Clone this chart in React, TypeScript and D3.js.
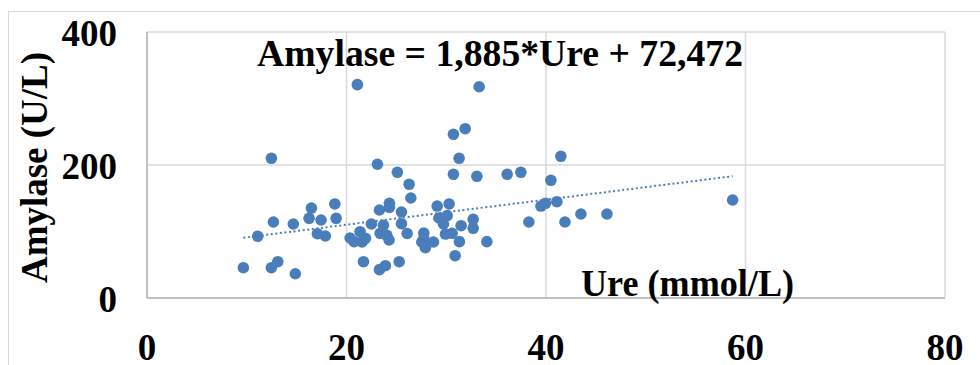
import React from "react";
import * as d3 from "d3";

// Ure (mmol/L) values
const ureValues: number[] = [
  9.66, 11.1, 12.47, 12.47, 12.67, 13.11, 14.67, 14.87, 16.25, 16.48,
  17.08, 17.45, 17.88, 18.83, 18.96, 20.36, 20.76, 21.09, 21.36, 21.56,
  21.9, 21.7, 22.5, 23.1, 23.3, 23.3, 23.37, 23.7, 23.9, 24.04,
  24.3, 24.3, 24.27, 25.1, 25.28, 25.51, 25.51, 26.08, 26.28, 26.45,
  27.55, 27.75, 27.75, 27.91, 28.72, 29.09, 29.26, 29.72, 29.92, 30.09,
  30.29, 30.59, 30.72, 30.72, 30.89, 31.29, 31.32, 31.49, 31.9, 32.7,
  32.7, 33.07, 33.3, 34.07, 36.11, 37.48, 38.28, 39.49, 39.95, 40.49,
  41.09, 41.49, 41.9, 43.5, 46.11, 58.71,
];
// Amylase (U/L) values
const amylaseValues: number[] = [
  45.6, 92.8, 210.1, 45.6, 114.3, 54.6, 111.3, 36.5, 119.8, 135.3,
  96.7, 117.3, 93.2, 141.4, 119.8, 90.2, 84.7, 320.8, 99.7, 84.2,
  89.8, 54.6, 111.3, 201.1, 132.3, 42.6, 97.3, 109.3, 48.6, 94.3,
  142.4, 136.4, 87.2, 189.0, 54.6, 129.3, 111.7, 97.0, 171.0, 150.4,
  84.2, 97.7, 89.8, 75.6, 84.2, 138.3, 120.3, 111.3, 96.2, 123.8,
  141.4, 97.3, 246.2, 186.0, 63.6, 210.1, 84.7, 108.7, 254.6, 118.3,
  104.8, 183.0, 317.7, 84.7, 186.0, 189.0, 114.3, 138.3, 142.4, 177.0,
  144.8, 213.1, 114.3, 126.3, 126.3, 147.4,
];

const xTicks: number[] = [0, 20, 40, 60, 80];
const yTicks: number[] = [0, 200, 400];
const slope = 1.885;
const intercept = 72.472;
const equationText = "Amylase = 1,885*Ure + 72,472";
const xTitle = "Ure (mmol/L)";
const yTitle = "Amylase (U/L)";

const FONT = "'Liberation Serif', 'Times New Roman', serif";
const BLUE = "#4a7ebb";

export default function App() {
  const x = d3.scaleLinear().domain([0, 80]).range([147, 945]);
  const y = d3.scaleLinear().domain([0, 400]).range([298, 32]);

  const xMin = d3.min(ureValues) as number;
  const xMax = d3.max(ureValues) as number;
  const trend = d3
    .line<number>()
    .x((d) => x(d))
    .y((d) => y(slope * d + intercept));

  const points = ureValues.map((u, i) => ({ u, a: amylaseValues[i] }));

  return (
    <svg
      width={980}
      height={365}
      style={{ position: "absolute", left: 0, top: 0, background: "#fff" }}
    >
      {/* outer chart border */}
      <rect x={8.5} y={11.5} width={1000} height={400} fill="#fff" stroke="#d9d9d9" strokeWidth={1} />

      {/* gridlines */}
      {yTicks.map((t) => (
        <line key={"gy" + t} x1={x(0)} x2={x(80)} y1={y(t)} y2={y(t)} stroke="#d9d9d9" strokeWidth={1.5} />
      ))}
      {xTicks.map((t) => (
        <line key={"gx" + t} x1={x(t)} x2={x(t)} y1={y(0)} y2={y(400)} stroke="#d9d9d9" strokeWidth={1.5} />
      ))}
      {/* axes */}
      <line x1={x(0)} x2={x(0)} y1={y(0)} y2={y(400)} stroke="#bfbfbf" strokeWidth={2} />
      <line x1={x(0)} x2={x(80)} y1={y(0)} y2={y(0)} stroke="#bfbfbf" strokeWidth={2} />

      {/* points */}
      {points.map((p, i) => (
        <circle key={i} cx={x(p.u)} cy={y(p.a)} r={5.8} fill={BLUE} />
      ))}

      {/* trendline */}
      <path
        d={trend([xMin, xMax]) || ""}
        fill="none"
        stroke={BLUE}
        strokeWidth={2}
        strokeDasharray="2 2.6"
      />

      {/* tick labels */}
      {yTicks.map((t) => (
        <text
          key={"ty" + t}
          x={117}
          y={y(t) + 14}
          textAnchor="end"
          fontFamily={FONT}
          fontWeight="bold"
          fontSize={37}
          fill="#000"
        >
          {t}
        </text>
      ))}
      {xTicks.map((t) => (
        <text
          key={"tx" + t}
          x={x(t)}
          y={360}
          textAnchor="middle"
          fontFamily={FONT}
          fontWeight="bold"
          fontSize={37}
          fill="#000"
        >
          {t}
        </text>
      ))}

      {/* equation */}
      <text
        x={257}
        y={66}
        fontFamily={FONT}
        fontWeight="bold"
        fontSize={37}
        fill="#000"
        textLength={486}
        lengthAdjust="spacingAndGlyphs"
      >
        {equationText}
      </text>

      {/* axis titles */}
      <text
        x={581}
        y={296}
        fontFamily={FONT}
        fontWeight="bold"
        fontSize={37}
        fill="#000"
        textLength={213}
        lengthAdjust="spacingAndGlyphs"
      >
        {xTitle}
      </text>
      <text
        transform="translate(47,167.5) rotate(-90)"
        textAnchor="middle"
        fontFamily={FONT}
        fontWeight="bold"
        fontSize={37}
        fill="#000"
        textLength={231}
        lengthAdjust="spacingAndGlyphs"
      >
        {yTitle}
      </text>
    </svg>
  );
}
